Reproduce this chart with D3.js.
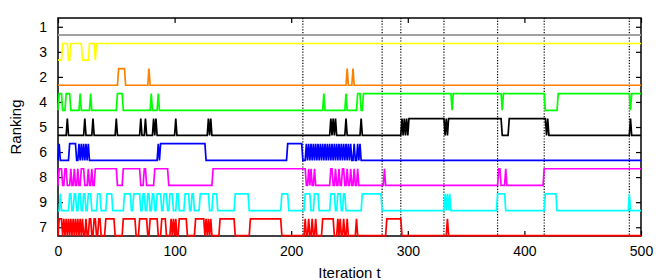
<!DOCTYPE html>
<html>
<head>
<meta charset="utf-8">
<script src="https://cdn.jsdelivr.net/npm/d3@7"></script>
<style>
body { margin: 0; background: #fff; }
svg text { font-family: "Liberation Sans", Arial, sans-serif; }
</style>
</head>
<body>
<svg id="chart" width="666" height="280"></svg>
<script>
// row labels top to bottom, and the colour of each row
var rowLabels = ["1", "3", "2", "4", "5", "6", "8", "9", "7"];
var rowColors = ["#a0a0a0", "#ffff00", "#ff8000", "#00ff00", "#000000", "#0000ff", "#ff00ff", "#00ffff", "#ff0000"];

// each row sits on its lower level; these are the [start, end] iterations where it is up
var rank1Highs = [];
var rank3Highs = [[3,8],[10,20],[26,31],[32,500]];
var rank2Highs = [[51,57],[77,78],[247,248],[252,253]];
var rank4Highs = [[0,3],[6,10],[18,19],[27,28],[50,55],[79,80],[85,86],[227,228],[246,247],[256,259],[261,337],[338,380],[381,417],[428,490],[491,500]];
var rank5Highs = [[7,8],[22,23],[29,30],[49,50],[70,71],[74,75],[81,82],[83,84],[100,101],[128,129],[130,131],
    [233,234],[235,236],[237,238],[246,247],[259,260],[294,295],[296,297],[298,299],[300,331],[332,333],[334,380],[386,418],[419,420],[490,491]];
var rank6Highs = [[0,1],[9,15],[17,18],[19,20],[21,22],[23,24],[25,26],[85,86],[87,126],[196,209],
    [212,213],[214,215],[216,217],[218,219],[220,221],[222,223],[224,225],[226,227],[228,229],[230,231],
    [232,233],[234,235],[236,237],[238,239],[240,241],[242,243],[244,245],[246,247],[248,249],[250,251],
    [253,254],[256,257],[258,259]];
var rank8Highs = [[0,3],[5,7],[10,11],[13,14],[16,17],[19,22],[25,26],[28,29],[31,50],[55,70],[73,75],[82,94],
    [132,212],[214,215],[216,217],[219,220],[233,235],[237,238],[240,241],[243,245],[247,248],[250,251],[253,254],[256,257],
    [279,280],[377,379],[383,384],[416,500]];
var rank9Highs = [[1,2],[9,11],[13,15],[17,19],[21,23],[25,28],[33,36],[41,46],[56,62],[64,70],[72,74],[76,78],[80,82],
    [84,88],[90,93],[95,98],[101,103],[108,112],[114,116],[121,129],[132,136],[151,163],[191,197],[211,216],[219,223],
    [233,237],[239,242],[244,246],[260,277],[331,332],[333,334],[335,336],[376,383],[417,427],[489,490]];
var rank7Highs = [[0,3],[4,5],[6,7],[8,9],[10,11],[12,13],[14,15],[16,17],[18,19],[20,21],[23,24],[26,28],[30,32],[34,36],
    [40,48],[55,66],[69,76],[78,85],[88,92],[96,97],[98,99],[100,101],[103,110],[117,125],[126,127],[128,129],[130,131],
    [138,151],[164,191],[211,212],[214,215],[217,218],[220,221],[226,236],[239,240],[241,242],[244,245],[247,248],[255,256],
    [281,294],[333,334]];

// iterations marked with dotted lines
var switchTimes = [210, 278, 294, 331, 377, 417, 490];
var xTicks = [0, 100, 200, 300, 400, 500];

var rowHighs = [rank1Highs, rank3Highs, rank2Highs, rank4Highs, rank5Highs, rank6Highs, rank8Highs, rank9Highs, rank7Highs];

var svg = d3.select("#chart");
var plotLeft = 58, plotRight = 641, plotTop = 18, plotBottom = 236;

var x = d3.scaleLinear().domain([0, 500]).range([plotLeft, plotRight]);
var y = d3.scaleLinear().domain([-0.35, 8.35]).range([plotTop, plotBottom]);

// turn the up-intervals into the vertices of the step line (0 = low, 1 = up)
function toPoints(highs){
    var pts = [[0, 0]];
    highs.forEach(function(h){
        pts.push([h[0], 0]);
        pts.push([h[0] + 1, 1]);
        pts.push([Math.min(h[1], 500), 1]);
        if(h[1] < 500) pts.push([h[1] + 1, 0]);
    });
    var last = pts[pts.length - 1];
    if(last[0] < 500) pts.push([500, last[1]]);
    return pts;
}

// dotted markers
svg.selectAll("line.marker").data(switchTimes).enter().append("line")
    .attr("class", "marker")
    .attr("x1", function(d){ return x(d); })
    .attr("x2", function(d){ return x(d); })
    .attr("y1", plotTop).attr("y2", plotBottom)
    .attr("stroke", "#000").attr("stroke-width", 1.2)
    .attr("stroke-dasharray", "1.2,1.6");

// axes, ticks pointing inward
var xBottom = d3.axisBottom(x).tickValues(xTicks).tickSizeInner(-5).tickSizeOuter(0).tickPadding(10);
var xTop = d3.axisTop(x).tickValues(xTicks).tickSizeInner(-5).tickSizeOuter(0).tickFormat("");
var yLeft = d3.axisLeft(y).tickValues(d3.range(rowLabels.length)).tickFormat(function(i){ return rowLabels[i]; })
    .tickSizeInner(-5).tickSizeOuter(0).tickPadding(11);
var yRight = d3.axisRight(y).tickValues(d3.range(rowLabels.length)).tickFormat("").tickSizeInner(-5).tickSizeOuter(0);

function styleAxis(g){
    g.select(".domain").remove();
    g.selectAll(".tick line").attr("stroke", "#000").attr("stroke-width", 1.2);
    g.selectAll(".tick text").attr("fill", "#000").style("font-size", "14px");
}
svg.append("g").attr("transform", "translate(0," + plotBottom + ")").call(xBottom).call(styleAxis);
svg.append("g").attr("transform", "translate(0," + plotTop + ")").call(xTop).call(styleAxis);
svg.append("g").attr("transform", "translate(" + plotLeft + ",0)").call(yLeft).call(styleAxis);
svg.append("g").attr("transform", "translate(" + plotRight + ",0)").call(yRight).call(styleAxis);

svg.append("rect")
    .attr("x", plotLeft).attr("y", plotTop)
    .attr("width", plotRight - plotLeft).attr("height", plotBottom - plotTop)
    .attr("fill", "none").attr("stroke", "#000").attr("stroke-width", 1.5);

// one stepped line per row
rowHighs.forEach(function(highs, row){
    var line = d3.line()
        .x(function(d){ return x(d[0]); })
        .y(function(d){ return y(row + (d[1] ? -1/3 : 1/3)); });
    svg.append("path")
        .attr("d", line(toPoints(highs)))
        .attr("fill", "none")
        .attr("stroke", rowColors[row])
        .attr("stroke-width", row == 0 ? 2 : 1.7)
        .attr("stroke-linejoin", "miter");
});

svg.append("text")
    .attr("x", (plotLeft + plotRight) / 2).attr("y", 278)
    .attr("text-anchor", "middle")
    .style("font-size", "15px")
    .text("Iteration t");

svg.append("text")
    .attr("transform", "translate(21," + (plotTop + plotBottom) / 2 + ") rotate(-90)")
    .attr("text-anchor", "middle")
    .style("font-size", "15px")
    .text("Ranking");
</script>
</body>
</html>
